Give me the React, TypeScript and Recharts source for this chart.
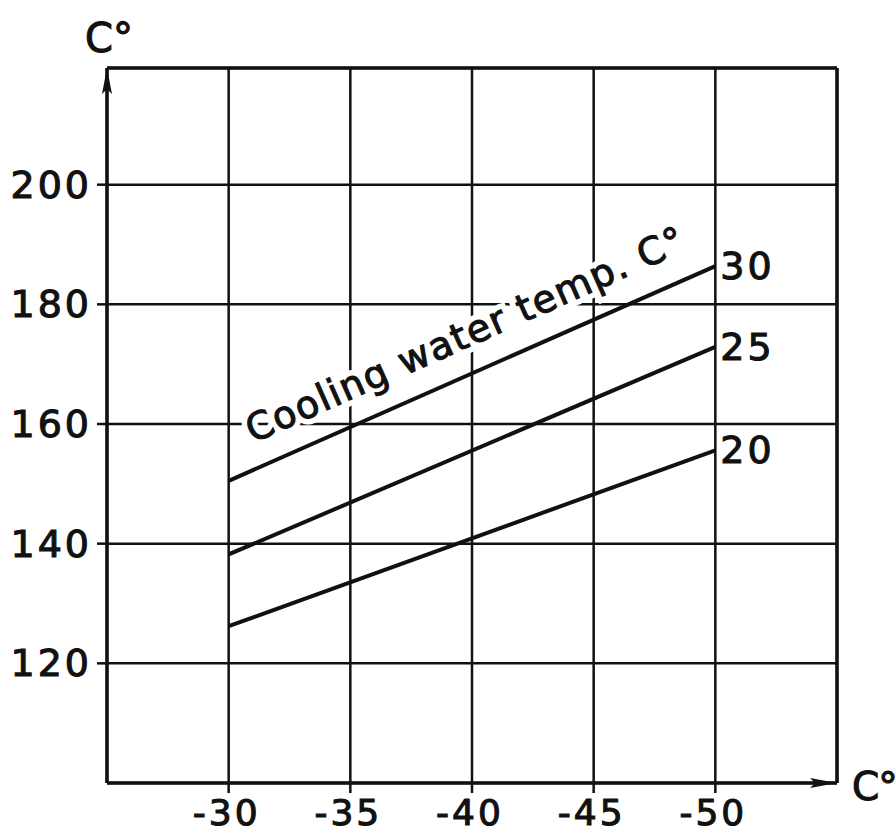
import {
  LineChart,
  Line,
  XAxis,
  YAxis,
  CartesianGrid,
  ReferenceLine,
  ReferenceDot,
} from "recharts";

// evaporation temp (x) vs condensing / discharge temp (y), per cooling water temp
const EVAP_TEMPS = [-30, -50];
const COOLING_30 = [150.5, 186.4];
const COOLING_25 = [138.2, 172.9];
const COOLING_20 = [126.2, 155.6];
const SERIES_NAMES = ["30", "25", "20"];

const X_TICKS = [-30, -35, -40, -45, -50];
const Y_TICKS = [120, 140, 160, 180, 200];
const X_DOMAIN: [number, number] = [-55, -25];
const Y_DOMAIN: [number, number] = [100, 219.5];

const UNIT = "C°";
const CURVE_TITLE = "Cooling water temp. C°";

const data = EVAP_TEMPS.map((x, i) => ({
  x,
  t30: COOLING_30[i],
  t25: COOLING_25[i],
  t20: COOLING_20[i],
}));

const INK = "#111";
const FONT = "'DejaVu Sans', sans-serif";
// thin ink stroke gives the heavier print look of the original
const textStyle = {
  fontFamily: FONT,
  fontSize: 38,
  fill: INK,
  stroke: INK,
  strokeWidth: 1.1,
  letterSpacing: 3,
};

const YTick = ({ x, y, payload }: any) => (
  <text x={x} y={y} dx={-3} textAnchor="end" dominantBaseline="central" {...textStyle}>
    {payload.value}
  </text>
);

const XTick = ({ x, y, payload }: any) => (
  <text x={x} y={y} dx={-2} dy={30} textAnchor="middle" {...textStyle} fontSize={36}>
    {payload.value}
  </text>
);

const endLabel = (name: string) => (p: any) => {
  if (p.index !== EVAP_TEMPS.length - 1) return <g />;
  return (
    <text x={p.x + 5} y={p.y} dominantBaseline="central" {...textStyle}>
      {name}
    </text>
  );
};

// arrow head on top of the y axis + unit label
const UpArrow = ({ cx, cy }: any) => (
  <g>
    <path d={`M${cx},${cy} L${cx - 5},${cy + 26} L${cx},${cy + 21} L${cx + 5},${cy + 26} Z`} fill={INK} />
    <text x={cx - 22} y={cy - 16} {...textStyle} fontSize={40} letterSpacing={0}>
      {UNIT}
    </text>
  </g>
);

// arrow head at the end of the x axis + unit label
const RightArrow = ({ cx, cy }: any) => (
  <g>
    <path d={`M${cx},${cy} L${cx - 27},${cy - 5} L${cx - 22},${cy} L${cx - 27},${cy + 5} Z`} fill={INK} />
    <text x={cx + 15} y={cy + 17} {...textStyle} fontSize={39} letterSpacing={-1}>
      {UNIT}
    </text>
  </g>
);

const CurveTitle = ({ cx, cy }: any) => {
  const rot = `rotate(-24 ${cx} ${cy})`;
  return (
    <g>
      <text x={cx} y={cy} transform={rot} {...textStyle} letterSpacing={1.5} stroke="#fff" strokeWidth={12}>
        {CURVE_TITLE}
      </text>
      <text x={cx} y={cy} transform={rot} {...textStyle} letterSpacing={1.5}>
        {CURVE_TITLE}
      </text>
    </g>
  );
};

export default function App() {
  return (
    <div style={{ position: "absolute", left: 0, top: 0, background: "#fff" }}>
      <LineChart
        width={896}
        height={834}
        data={data}
        margin={{ top: 68, right: 59, bottom: 0, left: 0 }}
      >
        <CartesianGrid stroke={INK} strokeWidth={2.5} strokeDasharray="" />
        <XAxis
          type="number"
          dataKey="x"
          domain={X_DOMAIN}
          reversed
          ticks={X_TICKS}
          height={51}
          tickSize={10}
          axisLine={{ stroke: INK, strokeWidth: 3.5 }}
          tickLine={{ stroke: INK, strokeWidth: 2.5 }}
          tick={<XTick />}
        />
        <YAxis
          type="number"
          domain={Y_DOMAIN}
          ticks={Y_TICKS}
          width={107}
          tickSize={10}
          axisLine={{ stroke: INK, strokeWidth: 3.5 }}
          tickLine={{ stroke: INK, strokeWidth: 2.5 }}
          tick={<YTick />}
        />
        <ReferenceLine y={Y_DOMAIN[1]} stroke={INK} strokeWidth={3.5} />
        <ReferenceLine x={X_DOMAIN[0]} stroke={INK} strokeWidth={3.5} />
        <ReferenceDot x={-31.0} y={156.8} r={0} shape={<CurveTitle />} />
        <Line
          type="linear"
          dataKey="t30"
          stroke={INK}
          strokeWidth={4}
          dot={false}
          isAnimationActive={false}
          label={endLabel(SERIES_NAMES[0])}
        />
        <Line
          type="linear"
          dataKey="t25"
          stroke={INK}
          strokeWidth={4}
          dot={false}
          isAnimationActive={false}
          label={endLabel(SERIES_NAMES[1])}
        />
        <Line
          type="linear"
          dataKey="t20"
          stroke={INK}
          strokeWidth={4}
          dot={false}
          isAnimationActive={false}
          label={endLabel(SERIES_NAMES[2])}
        />
        <ReferenceDot x={X_DOMAIN[1]} y={Y_DOMAIN[1]} r={0} shape={<UpArrow />} />
        <ReferenceDot x={X_DOMAIN[0]} y={Y_DOMAIN[0]} r={0} shape={<RightArrow />} />
      </LineChart>
    </div>
  );
}
